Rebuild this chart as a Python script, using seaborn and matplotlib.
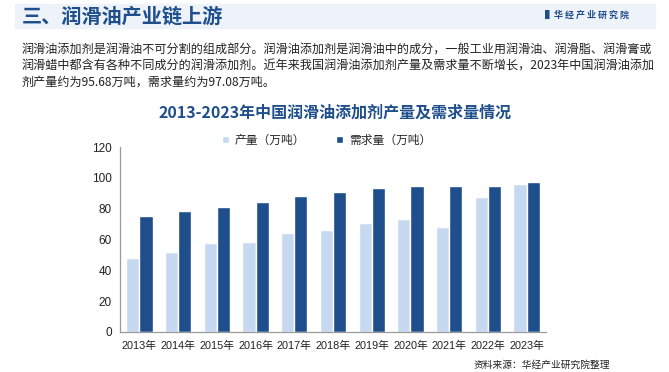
import numpy as np
import pandas as pd
import matplotlib
matplotlib.use("Agg")
import matplotlib.pyplot as plt
from matplotlib.patches import Rectangle
import seaborn as sns

# Datos
years = ["2013年", "2014年", "2015年", "2016年", "2017年", "2018年",
         "2019年", "2020年", "2021年", "2022年", "2023年"]
produccion = [48.0, 52.1, 57.5, 58.4, 64.0, 66.3, 70.7, 73.1, 68.1, 87.3, 95.68]
demanda = [75.0, 78.3, 81.3, 84.3, 88.0, 91.0, 93.4, 94.7, 94.7, 94.7, 97.08]
series = ["产量（万吨）", "需求量（万吨）"]
colores = ["#C6D9F1", "#1F4E8C"]

df = pd.DataFrame({
    "年份": years * 2,
    "值": produccion + demanda,
    "类别": [series[0]] * len(years) + [series[1]] * len(years),
})

sns.set_style("white")
plt.rcParams["font.family"] = ["Liberation Sans", "Noto Sans CJK SC", "DejaVu Sans"]
cjk = ["Noto Sans CJK SC", "DejaVu Sans"]

fig = plt.figure(figsize=(6.69, 3.72), dpi=100)

# Cabecera
fig.patches.append(Rectangle((15 / 669, 1 - 28 / 372), 640 / 669, 24 / 372,
                             transform=fig.transFigure, color="#EEF3FA", zorder=0))
fig.text(22 / 669, 1 - 16 / 372, "三、润滑油产业链上游", family=cjk, fontsize=14.5,
         fontweight="bold", color="#1F4E8C", va="center")
fig.text(545 / 669, 1 - 15 / 372, "▌华 经 产 业 研 究 院", family=cjk, fontsize=6.5,
         fontweight="bold", color="#1F4E8C", va="center")

# Texto descriptivo
texto = ["润滑油添加剂是润滑油不可分割的组成部分。润滑油添加剂是润滑油中的成分，一般工业用润滑油、润滑脂、润滑膏或",
         "润滑蜡中都含有各种不同成分的润滑添加剂。近年来我国润滑油添加剂产量及需求量不断增长，2023年中国润滑油添加",
         "剂产量约为95.68万吨，需求量约为97.08万吨。"]
for i, linea in enumerate(texto):
    fig.text(22 / 669, 1 - (50 + 16 * i) / 372, linea, family=cjk, fontsize=8.7,
             color="#222222", va="center")

fig.text(335 / 669, 1 - 113 / 372, "2013-2023年中国润滑油添加剂产量及需求量情况",
         family=cjk, fontsize=11.5, fontweight="bold", color="#1F4E8C",
         ha="center", va="center")

# Gráfico de barras
ax = fig.add_axes([120 / 669, 1 - 332 / 372, 426 / 669, 185 / 372])
sns.barplot(data=df, x="年份", y="值", hue="类别", palette=colores,
            width=0.68, gap=0.0, saturation=1, ax=ax)
ax.set_ylim(0, 120)
ax.set_yticks(range(0, 121, 20))
ax.set_xlim(-0.5, len(years) - 0.5)
ax.set_xlabel("")
ax.set_ylabel("")
for s in ["top", "right"]:
    ax.spines[s].set_visible(False)
for s in ["left", "bottom"]:
    ax.spines[s].set_color("#9A9A9A")
    ax.spines[s].set_linewidth(0.9)
ax.tick_params(axis="y", length=3, color="#9A9A9A", labelsize=8.5, pad=3,
               labelcolor="#222222")
ax.set_xticks(np.arange(len(years)))
ax.set_xticklabels(years, fontsize=7.8, color="#222222")
ax.tick_params(axis="x", length=0, pad=6)
ax.set_xticks(np.arange(-0.5, len(years)), minor=True)
ax.tick_params(axis="x", which="minor", length=4, color="#9A9A9A")

ax.legend(loc="upper center", bbox_to_anchor=(0.485, 1.13), ncol=2, frameon=False,
          handlelength=0.6, handleheight=0.6, columnspacing=2.6,
          handletextpad=0.5, prop={"family": cjk, "size": 8.5})

fig.text(610 / 669, 1 - 365 / 372, "资料来源：华经产业研究院整理", family=cjk,
         fontsize=7, color="#222222", ha="right", va="center")

fig.savefig("out.png", dpi=100)
